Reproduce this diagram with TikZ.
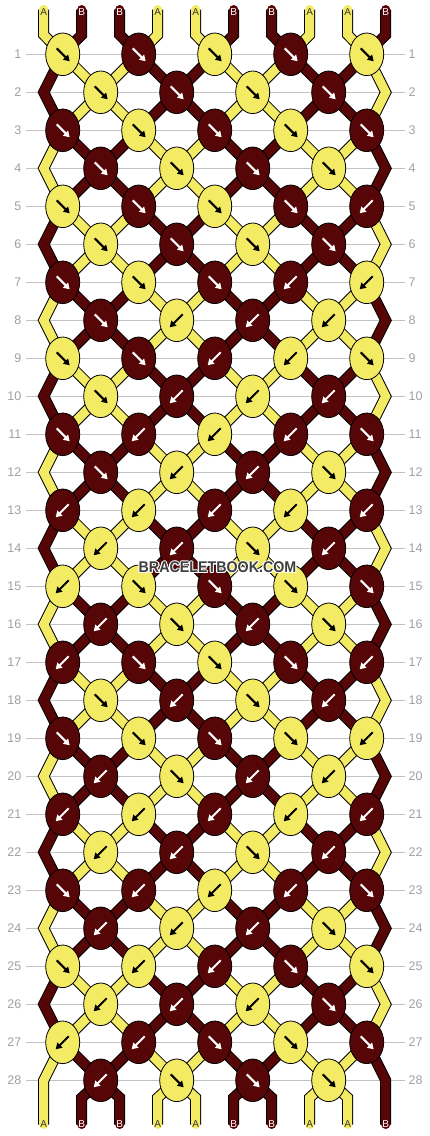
\documentclass[tikz,border=0pt]{standalone}
\usepackage{fontspec}
\setmainfont{Liberation Sans}
\usetikzlibrary{shapes.geometric,arrows.meta}

\definecolor{yarnA}{RGB}{243,235,99}
\definecolor{yarnB}{RGB}{86,6,6}
\definecolor{guidegray}{RGB}{194,194,194}
\definecolor{numgray}{RGB}{160,160,160}
\definecolor{brandgray}{RGB}{62,62,62}

% colour letter of the strand at place #2 just below row #1
\newcommand\yarncol[2]{%
  \pgfmathtruncatemacro\yc{((mod(#2,4)==0)||(mod(#2,4)==3)) != ((mod(#1,4)==1)||(mod(#1,4)==2))}%
  \ifnum\yc=1 \def\yl{A}\else\def\yl{B}\fi}

\tikzset{
  guide/.style={draw=guidegray, line width=1pt},
  rownum/.style={text=numgray, font=\fontsize{12.5}{13}\selectfont, inner sep=0pt},
  strand/.style={draw=#1, line width=9pt, line cap=round, line join=miter,
    preaction={draw=black, line width=11pt}},
  knot/.style={ellipse, draw=black, line width=0.8pt, fill=#1,
    minimum width=34pt, minimum height=42.6pt, inner sep=0pt},
  tipA/.style={draw=black, line width=2pt, -{Triangle[length=6pt,width=7pt]}},
  tipB/.style={draw=white, line width=2pt, -{Triangle[length=6pt,width=7pt]}},
  tagA/.style={text=black!80, font=\fontsize{10}{10}\selectfont, inner sep=0pt},
  tagB/.style={text=white, font=\fontsize{10}{10}\selectfont, inner sep=0pt},
  brand/.style={text=brandgray, font=\bfseries\fontsize{15.5}{16}\selectfont, inner sep=0pt}
}

\begin{document}
\begin{tikzpicture}[x=1pt,y=-1pt]
\useasboundingbox (0,0) rectangle (430,1136);

% row guides and numbers
\foreach \row in {1,...,28}{
  \pgfmathsetmacro\y{54.3+38*(\row-1)}
  \draw[guide] (26,\y) -- (405,\y);
  \node[rownum, anchor=east] (ln-\row) at (21.5,\y) {\row};
  \node[rownum, anchor=west] (rn-\row) at (408.5,\y) {\row};
}

% strand places: knot centres, edge turns, top and bottom ends
\foreach \row in {1,...,28}{
  \pgfmathsetmacro\y{54.3+38*(\row-1)}
  \foreach \idx in {0,...,9}{
    \ifodd\row\relax
      \pgfmathsetmacro\x{62.7+76*floor(\idx/2)}
    \else
      \pgfmathsetmacro\x{\idx==0 ? 43.7 : (\idx==9 ? 385.7 : 100.7+76*floor((\idx-1)/2))}
    \fi
    \coordinate (s-\row-\idx) at (\x,\y);
  }
}
\foreach \idx in {0,...,9}{
  \pgfmathsetmacro\x{43.7+38*\idx}
  \coordinate (t-\idx) at (\x,9.5);
  \coordinate (s-0-\idx) at (\x,34.8);
  \coordinate (s-29-\idx) at (\x,1097.7);
  \coordinate (e-\idx) at (\x,1124.5);
}

% strands
\foreach \idx in {0,...,9}{
  \yarncol{0}{\idx}
  \draw[strand=yarn\yl] (t-\idx) -- (s-0-\idx) -- (s-1-\idx);
}
\foreach \row in {1,...,27}{
  \pgfmathtruncatemacro\rn{\row+1}
  \foreach \idx in {1,...,8}{
    \yarncol{\row}{\idx}
    \draw[strand=yarn\yl] (s-\row-\idx) -- (s-\rn-\idx);
  }
}
\foreach \idx in {0,9}{
  \foreach \row in {1,3,...,25}{
    \pgfmathtruncatemacro\rn{\row+1}
    \pgfmathtruncatemacro\rnn{\row+2}
    \yarncol{\row}{\idx}
    \draw[strand=yarn\yl] (s-\row-\idx) -- (s-\rn-\idx) -- (s-\rnn-\idx);
  }
  \yarncol{27}{\idx}
  \draw[strand=yarn\yl] (s-27-\idx) -- (s-28-\idx) -- (e-\idx);
}
\foreach \idx in {1,...,8}{
  \yarncol{28}{\idx}
  \draw[strand=yarn\yl] (s-28-\idx) -- (s-29-\idx) -- (e-\idx);
}

% knots: colour / f = forward, b = backward
\foreach \knots [count=\row] in {%
  {A/f,B/f,A/f,B/f,A/f},%
  {A/f,B/f,A/f,B/f},%
  {B/f,A/f,B/f,A/f,B/f},%
  {B/f,A/f,B/f,A/f},%
  {A/f,B/f,A/f,B/f,B/b},%
  {A/f,B/f,A/f,B/f},%
  {B/f,A/f,B/f,B/b,A/b},%
  {B/f,A/b,B/b,A/b},%
  {A/f,B/f,B/b,A/b,A/f},%
  {A/f,B/b,A/b,B/b},%
  {B/f,B/b,A/b,B/b,B/f},%
  {B/f,A/b,B/b,A/f},%
  {B/b,A/b,B/b,A/b,B/b},%
  {A/b,B/b,A/f,B/b},%
  {A/b,A/f,B/f,A/f,B/f},%
  {B/b,A/f,B/b,A/f},%
  {B/b,B/f,A/f,B/f,B/b},%
  {A/f,B/b,A/f,B/b},%
  {B/f,A/f,B/f,A/f,A/b},%
  {B/b,A/f,B/b,A/b},%
  {B/b,A/b,B/b,A/b,B/b},%
  {A/b,B/b,A/f,B/b},%
  {B/f,B/b,A/b,B/b,B/f},%
  {B/b,A/b,B/b,A/f},%
  {A/f,A/b,B/b,B/f,A/f},%
  {A/b,B/b,A/b,B/f},%
  {A/b,B/b,B/f,A/f,B/f},%
  {B/b,A/f,B/f,A/f}}{%
  \pgfmathsetmacro\y{54.3+38*(\row-1)}
  \foreach \kc/\kd [count=\kn from 0] in \knots {
    \ifodd\row\relax
      \pgfmathsetmacro\x{62.7+76*\kn}
    \else
      \pgfmathsetmacro\x{100.7+76*\kn}
    \fi
    \node[knot=yarn\kc] (k-\row-\kn) at (\x,\y) {};
    \if f\kd \def\xa{-6}\def\xb{7}\else \def\xa{6}\def\xb{-7}\fi
    \draw[tip\kc] ([shift={(\xa,-6)}]k-\row-\kn.center) -- ([shift={(\xb,7)}]k-\row-\kn.center);
  }
}

% strand letters
\foreach \idx in {0,...,9}{
  \yarncol{0}{\idx}
  \node[tag\yl] (top-\idx) at ([yshift=-3pt]t-\idx) {\yl};
  \node[tag\yl] (bot-\idx) at ([yshift=0.5pt]e-\idx) {\yl};
}

% site mark
\foreach \a in {0,45,...,315}
  \node[brand, text=white, shift={(\a:1.1)}] (halo-\a) at (217.5,567.5) {\scalebox{0.92}[1]{BRACELETBOOK.COM}};
\node[brand] (mark) at (217.5,567.5) {\scalebox{0.92}[1]{BRACELETBOOK.COM}};
\end{tikzpicture}
\end{document}
